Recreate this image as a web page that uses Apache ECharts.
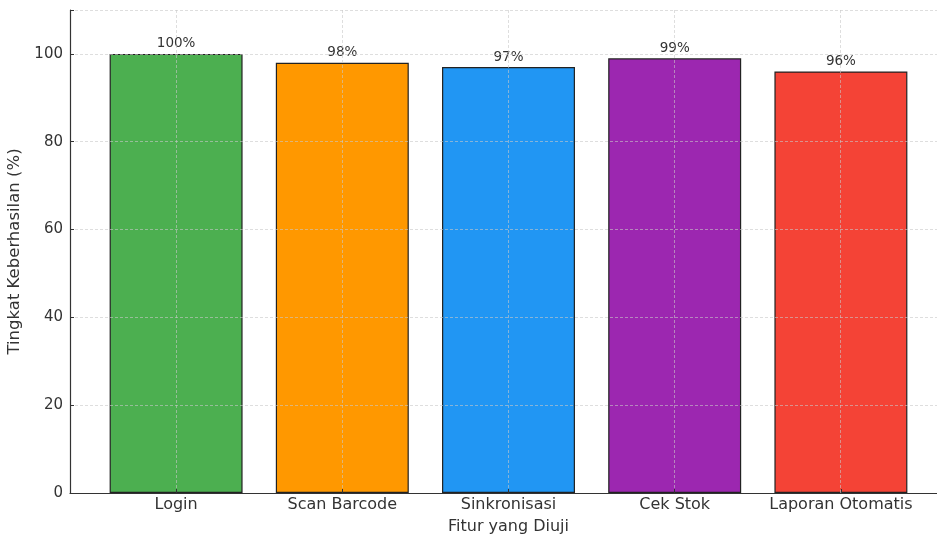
<!DOCTYPE html>
<html>
<head>
<meta charset="utf-8">
<script src="https://cdn.jsdelivr.net/npm/echarts@6/dist/echarts.min.js"></script>
<style>
  html, body { margin: 0; padding: 0; background: #fff; }
  #barChart { width: 937px; height: 535px; }
</style>
</head>
<body>
<div id="barChart"></div>
<script>
const categories = ['Login', 'Scan Barcode', 'Sinkronisasi', 'Cek Stok', 'Laporan Otomatis']
const successRate = [100, 98, 97, 99, 96]
const barColors = ['#4CAF50', '#FF9800', '#2196F3', '#9C27B0', '#F44336']

const chart = echarts.init(document.getElementById('barChart'))
const textColor = '#333'
const font = 'DejaVu Sans'
const gridLine = { show: true, interval: 0, lineStyle: { color: 'rgba(200,200,200,0.6)', type: [3, 2], width: 1 } }

chart.setOption({
  backgroundColor: '#fff',
  animation: false,
  grid: [
    // bars + category labels
    { left: 93, right: 13, top: 10, bottom: 42, outerBoundsMode: 'none' },
    // full-width frame: y axis, horizontal grid, bottom spine
    { left: 70, right: 0, top: 10, bottom: 42, outerBoundsMode: 'none' },
    // vertical grid lines at the bar centres
    { left: 176, right: 96.5, top: 10, bottom: 42, outerBoundsMode: 'none' }
  ],
  xAxis: [
    {
      type: 'category',
      gridIndex: 0,
      data: categories,
      z: 5,
      name: 'Fitur yang Diuji',
      nameLocation: 'middle',
      nameGap: 26,
      nameTextStyle: { color: textColor, fontSize: 16, fontFamily: font },
      axisLine: { show: false },
      axisTick: { show: true, interval: 0, inside: true, alignWithLabel: true, length: 4, lineStyle: { color: '#333' } },
      axisLabel: { interval: 0, hideOverlap: false, color: textColor, fontSize: 16, fontFamily: font, margin: 4 },
      splitLine: { show: false }
    },
    {
      type: 'value',
      gridIndex: 1,
      min: 0,
      max: 1,
      z: 5,
      axisLine: { show: true, lineStyle: { color: '#333', width: 1.2 } },
      axisTick: { show: false },
      axisLabel: { show: false },
      splitLine: { show: false }
    },
    {
      type: 'category',
      gridIndex: 2,
      data: categories,
      boundaryGap: false,
      z: 5,
      axisLine: { show: false },
      axisTick: { show: false },
      axisLabel: { show: false },
      splitLine: gridLine
    }
  ],
  yAxis: [
    { type: 'value', gridIndex: 0, min: 0, max: 110, show: false },
    {
      type: 'value',
      gridIndex: 1,
      min: 0,
      max: 110,
      interval: 20,
      z: 5,
      name: 'Tingkat Keberhasilan (%)',
      nameLocation: 'middle',
      nameGap: 45,
      nameRotate: 90,
      nameTextStyle: { color: textColor, fontSize: 16.5, fontFamily: font },
      axisLine: { show: true, lineStyle: { color: '#333', width: 1.2 } },
      axisTick: { show: true, inside: true, length: 4, lineStyle: { color: '#333' } },
      axisLabel: {
        color: textColor, fontSize: 15, fontFamily: font, margin: 7,
        formatter: (v) => (v > 100 ? '' : v)
      },
      splitLine: gridLine
    },
    { type: 'value', gridIndex: 2, min: 0, max: 110, show: false }
  ],
  series: [
    {
      type: 'bar',
      xAxisIndex: 0,
      yAxisIndex: 0,
      barWidth: '80%',
      data: successRate.map((v, i) => ({
        value: v,
        itemStyle: { color: barColors[i], borderColor: '#222', borderWidth: 1.2 }
      })),
      label: {
        show: true,
        position: 'top',
        distance: 3,
        color: textColor,
        fontSize: 13.5,
        fontFamily: font,
        formatter: (p) => p.value + '%'
      }
    }
  ]
})
</script>
</body>
</html>
